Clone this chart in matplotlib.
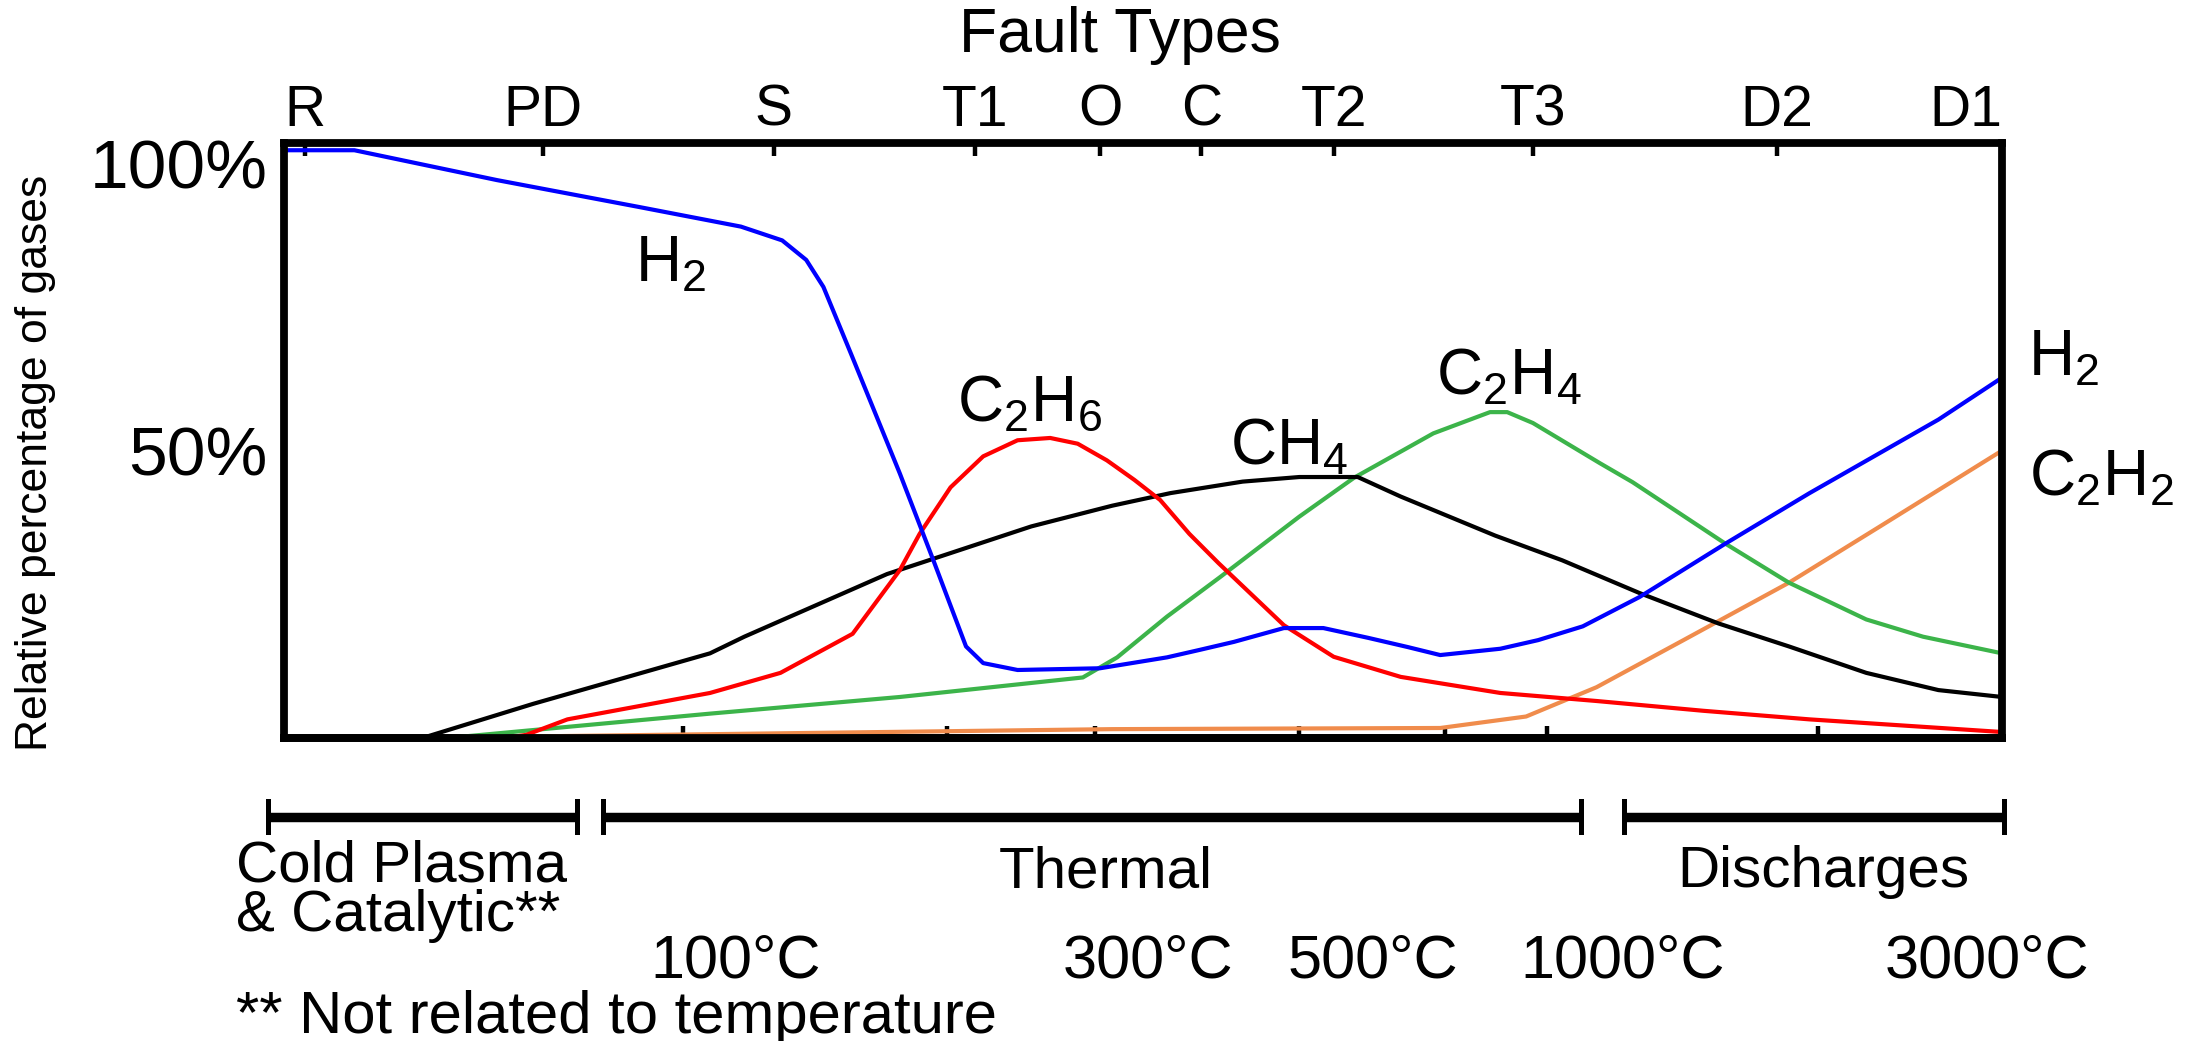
import matplotlib.pyplot as plt
import matplotlib.transforms as mtransforms

plt.rcParams['font.family'] = ['Liberation Sans', 'DejaVu Sans']
plt.rcParams['mathtext.fontset'] = 'custom'
plt.rcParams['mathtext.rm'] = 'Liberation Sans'

# fault types along the top axis (position 0..100 along the chart)
fault_labels = ['R', 'PD', 'S', 'T1', 'O', 'C', 'T2', 'T3', 'D2', 'D1']
fault_pos = [1.2, 15.1, 28.5, 40.2, 47.5, 53.4, 61.1, 72.7, 86.9, 100.0]

# unlabeled ticks on the bottom axis
bottom_ticks = [23.2, 38.6, 47.2, 59.1, 67.6, 73.5, 89.3]

# temperature labels under the chart
temp_labels = ['100°C', '300°C', '500°C', '1000°C', '3000°C']
temp_pos = [26.3, 50.3, 63.4, 77.9, 99.1]

# gas curves (position, relative %)
h2_x = [0, 4.1, 12.4, 20.7, 26.6, 29.0, 30.4, 31.4, 33.0, 35.85, 37.8, 39.7, 40.7, 42.7,
        47.5, 51.4, 53.3, 55.3, 58.2, 60.5, 63.1, 65.4, 67.3, 70.8, 73.0, 75.6, 78.9,
        83.9, 88.8, 96.3, 100]
h2_y = [102.3, 102.3, 97.1, 92.4, 89.0, 86.6, 83.2, 78.5, 66.9, 46.0, 30.9, 15.9, 13.0, 11.8,
        12.1, 14.0, 15.3, 16.7, 19.1, 19.1, 17.4, 15.8, 14.4, 15.5, 17.0, 19.4, 24.5,
        33.8, 42.6, 55.4, 62.7]

ch4_x = [8.1, 14.5, 24.8, 26.8, 35.1, 43.5, 48.2, 51.6, 55.8, 59.1, 62.5, 65.0, 70.5,
         74.4, 78.9, 83.5, 87.6, 92.1, 96.3, 100]
ch4_y = [0, 5.9, 14.7, 17.6, 28.5, 36.8, 40.4, 42.6, 44.6, 45.4, 45.4, 42.0, 35.2,
         30.9, 25.2, 19.9, 15.9, 11.3, 8.3, 7.1]

c2h6_x = [13.0, 14.1, 16.5, 24.8, 28.9, 33.1, 35.85, 37.0, 38.8, 40.7, 42.7, 44.6, 46.2,
          47.9, 49.5, 51.0, 52.7, 54.4, 58.2, 61.1, 65.0, 70.8, 76.4, 82.6, 88.8, 100]
c2h6_y = [0, 0.5, 3.2, 7.8, 11.3, 18.1, 29.2, 35.5, 43.6, 49.0, 51.8, 52.2, 51.2,
          48.3, 44.9, 41.4, 35.5, 30.4, 19.6, 14.1, 10.6, 7.8, 6.4, 4.7, 3.2, 1.0]

c2h4_x = [9.7, 10.4, 24.8, 35.85, 46.5, 48.5, 51.4, 54.5, 59.1, 62.3, 66.9, 70.2, 71.2,
          72.7, 76.6, 78.5, 83.9, 87.6, 92.1, 95.4, 100]
c2h4_y = [0, 0.2, 4.2, 7.1, 10.5, 14.0, 21.1, 28.0, 38.5, 45.3, 53.0, 56.7, 56.7,
          54.8, 47.8, 44.5, 33.8, 27.0, 20.6, 17.6, 14.7]

c2h2_x = [10.5, 16.3, 48.2, 67.3, 72.3, 76.4, 81.4, 87.6, 92.9, 100]
c2h2_y = [0, 0.3, 1.5, 1.7, 3.7, 8.8, 16.9, 27.0, 36.8, 50.0]

fig = plt.figure(figsize=(11.04, 5.205), dpi=200)
ax = fig.add_axes([0.1286, 0.2913, 0.9067 - 0.1286, 0.8623 - 0.2913])

lw = 1.5
ax.plot(c2h2_x, c2h2_y, color='#F08C4C', lw=lw)
ax.plot(c2h4_x, c2h4_y, color='#3CB44A', lw=lw)
ax.plot(ch4_x, ch4_y, color='black', lw=lw)
ax.plot(c2h6_x, c2h6_y, color='#FF0000', lw=lw)
ax.plot(h2_x, h2_y, color='#0000FF', lw=lw)

ax.set_xlim(0, 100)
ax.set_ylim(0, 103.5)

for s in ax.spines.values():
    s.set_linewidth(2.8)

# top axis: fault types
ax.xaxis.tick_top()
ax.set_xticks(fault_pos, fault_labels, fontsize=20.5)
ax.tick_params(axis='x', direction='in', length=4.5, width=1.6, pad=2)
ax.get_xticklabels()[-1].set_horizontalalignment('right')

# bottom axis: only tick marks
sec = ax.secondary_xaxis('bottom')
sec.set_xticks(bottom_ticks)
sec.tick_params(direction='in', length=4.5, width=1.6, labelbottom=False)
sec.spines['bottom'].set_linewidth(2.8)

ax.set_yticks([50, 100], ['50%', '100%'], fontsize=25)
ax.tick_params(axis='y', length=0, pad=6)

# curve labels
lab = dict(fontsize=23, ha='center', va='center')
ax.text(22.5, 82.4, r'$\mathregular{H_2}$', **lab)
ax.text(43.4, 58.1, r'$\mathregular{C_2H_6}$', **lab)
ax.text(58.5, 50.5, r'$\mathregular{CH_4}$', **lab)
ax.text(71.3, 62.7, r'$\mathregular{C_2H_4}$', **lab)
ax.text(103.6, 65.9, r'$\mathregular{H_2}$', clip_on=False, **lab)
ax.text(105.8, 45.1, r'$\mathregular{C_2H_2}$', clip_on=False, **lab)

fig.text(0.507, 0.966, 'Fault Types', fontsize=22.5, ha='center', va='center')
fig.text(0.0159, 0.555, 'Relative percentage of gases', fontsize=16, rotation=90,
         ha='center', va='center')

# range bars below the chart
tr = mtransforms.blended_transform_factory(ax.transData, ax.transAxes)
bar_y = -0.133
cap = 0.026
for x0, x1 in [(-0.95, 17.08), (18.56, 75.52), (77.98, 100.1)]:
    ax.plot([x0, x1], [bar_y, bar_y], color='black', lw=3.4, transform=tr,
            clip_on=False, solid_capstyle='butt')
    for xx in (x0, x1):
        ax.plot([xx, xx], [bar_y - cap, bar_y + cap], color='black', lw=1.8,
                transform=tr, clip_on=False)

fig.text(0.1071, 0.168, 'Cold Plasma', fontsize=21, ha='left', va='center')
fig.text(0.1071, 0.120, '& Catalytic**', fontsize=21, ha='left', va='center')
fig.text(0.5006, 0.162, 'Thermal', fontsize=21, ha='center', va='center')
fig.text(0.8258, 0.162, 'Discharges', fontsize=21, ha='center', va='center')

for t, x in zip(temp_labels, temp_pos):
    ax.text(x, 0.0762, t, fontsize=22, ha='center', va='center',
            transform=mtransforms.blended_transform_factory(ax.transData, fig.transFigure))

fig.text(0.1071, 0.0225, '** Not related to temperature', fontsize=21.5,
         ha='left', va='center')

fig.savefig('out.png', dpi=200)
